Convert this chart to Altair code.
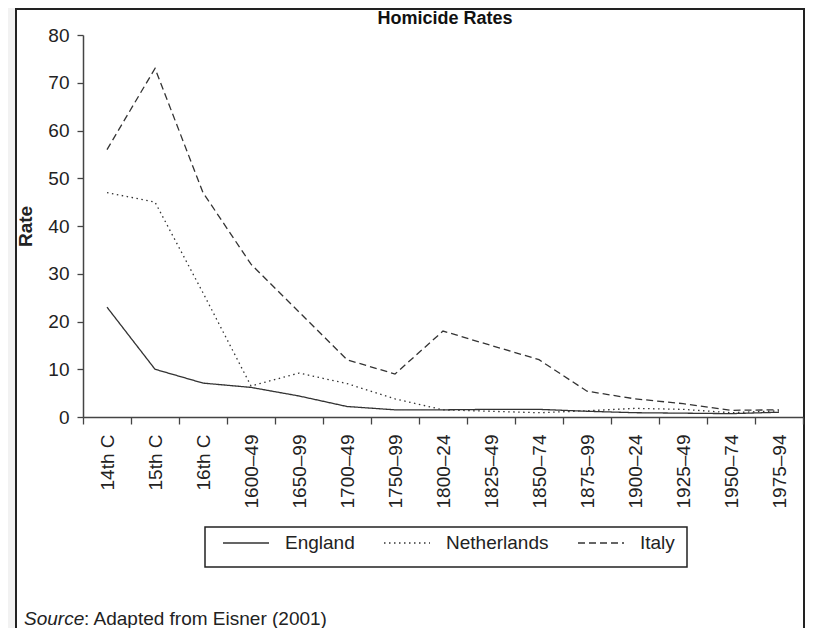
import altair as alt
import pandas as pd

# ---- data ----
periods = ["14th C", "15th C", "16th C", "1600–49", "1650–99", "1700–49", "1750–99",
           "1800–24", "1825–49", "1850–74", "1875–99", "1900–24", "1925–49",
           "1950–74", "1975–94"]
england = [23, 10, 7.1, 6.2, 4.4, 2.2, 1.5, 1.5, 1.6, 1.6, 1.2, 0.9, 0.8, 0.7, 1.0]
netherlands = [47, 45, 26, 6.5, 9.2, 7.0, 3.8, 1.5, 1.2, 0.9, 1.3, 1.8, 1.6, 0.9, 1.3]
italy = [56, 73, 47, 32, 22, 12, 9, 18, 15, 12, 5.4, 3.8, 2.8, 1.4, 1.5]
countries = ["England", "Netherlands", "Italy"]
y_ticks = [0, 10, 20, 30, 40, 50, 60, 70, 80]
title_text = "Homicide Rates"
y_title = "Rate"
source_label = "Source"
source_rest = ": Adapted from Eisner (2001)"

rows = []
for name, vals in zip(countries, [england, netherlands, italy]):
    for i, (p, v) in enumerate(zip(periods, vals)):
        rows.append({"period": p, "rate": v, "country": name, "idx": i})
df = pd.DataFrame(rows)

FONT = "Liberation Sans"
INK = "#222222"
LINE = "#333333"

W, H = 720, 382

base = alt.Chart(df)

lines = base.mark_line(color=LINE, strokeWidth=1.3).encode(
    x=alt.X("period:N", sort=periods,
            scale=alt.Scale(type="band", domain=periods, paddingInner=0, paddingOuter=0),
            axis=alt.Axis(title=None, labelAngle=270, labelFont=FONT, labelFontSize=19,
                          labelColor=INK, tickSize=7, tickBand="extent", labelPadding=10,
                          domainColor="#444444", domainWidth=1.5, tickColor="#444444",
                          tickWidth=1.3, grid=False, zindex=1)),
    y=alt.Y("rate:Q", scale=alt.Scale(domain=[0, 80], nice=False, zero=True),
            axis=alt.Axis(values=y_ticks, title=y_title, titleFont=FONT, titleFontSize=19,
                          titleFontWeight="bold", titleColor=INK, titlePadding=12,
                          labelFont=FONT, labelFontSize=19, labelColor=INK, labelPadding=8,
                          tickSize=6, tickColor="#444444", tickWidth=1.3,
                          domainColor="#444444", domainWidth=1.5, grid=False, zindex=1)),
    strokeDash=alt.StrokeDash("country:N",
                              scale=alt.Scale(domain=countries,
                                              range=[[1, 0], [1.5, 3.5], [7, 4]]),
                              legend=alt.Legend(title=None, orient="none", direction="horizontal",
                                                legendX=139, legendY=484, padding=0,
                                                symbolType="stroke", symbolSize=2116,
                                                symbolStrokeWidth=1.3, symbolStrokeColor=LINE,
                                                labelFont=FONT, labelFontSize=19,
                                                labelColor=INK, labelOffset=15,
                                                columnPadding=26, zindex=1)),
    order=alt.Order("idx:Q"),
)

one = pd.DataFrame({"k": [0]})
frame = alt.Chart(one).mark_rect(fill="white", stroke="#222222", strokeWidth=2).encode(
    x=alt.value(-67), x2=alt.value(721), y=alt.value(-26), y2=alt.value(700))

legend_box = alt.Chart(one).mark_rect(fill="white", stroke="#222222", strokeWidth=1.5).encode(
    x=alt.value(122), x2=alt.value(604), y=alt.value(492), y2=alt.value(532))

heading = alt.Chart(pd.DataFrame({"t": [title_text]})).mark_text(
    align="center", baseline="alphabetic", font=FONT, fontSize=18, fontWeight="bold",
    color="#111111").encode(x=alt.value(362), y=alt.value(-11), text="t:N")

notes = pd.DataFrame({"part": [source_label, source_rest]})
src1 = alt.Chart(notes[notes.part == source_label]).mark_text(
    align="left", baseline="alphabetic", font=FONT, fontSize=19, fontStyle="italic",
    color=INK).encode(x=alt.value(-59), y=alt.value(590), text="part:N")
src2 = alt.Chart(notes[notes.part == source_rest]).mark_text(
    align="left", baseline="alphabetic", font=FONT, fontSize=19,
    color=INK).encode(x=alt.value(1), y=alt.value(590), text="part:N")

chart = alt.layer(frame, legend_box, lines, heading, src1, src2).properties(
    width=W, height=H,
    autosize=alt.AutoSizeParams(type="none"),
    padding={"left": 75, "top": 27, "right": 2, "bottom": 211},
).configure(background="#f2f2f2").configure_view(stroke=None)

chart.save("out.html", embed_options={"renderer": "svg", "actions": False})
